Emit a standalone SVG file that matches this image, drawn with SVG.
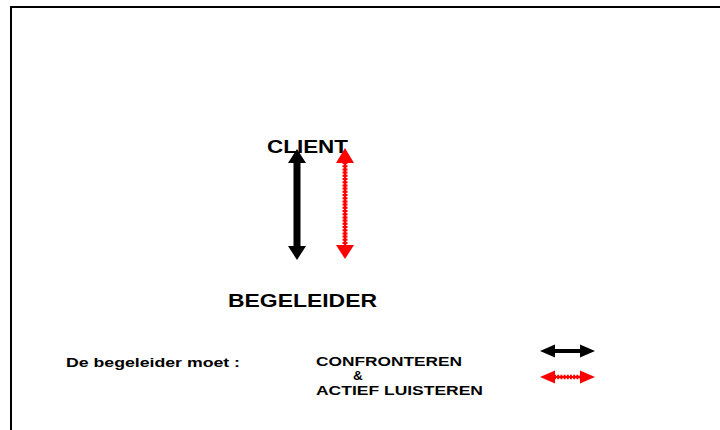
<svg xmlns="http://www.w3.org/2000/svg" width="720" height="430" viewBox="0 0 720 430">
  <style>
    .lbl { font-family: "Liberation Sans", Arial, sans-serif; font-weight: bold; fill: #000; }
    .big { font-size: 18.5px; }
    .small { font-size: 13.5px; }
    .frame { stroke: #000; stroke-width: 2; fill: none; }
    .solid { fill: #000; }
    .red { fill: #ff0000; }
    .dots { stroke: #ff0000; stroke-dasharray: 2 1.2; fill: none; }
  </style>

  <!-- page frame: top and left edges -->
  <path class="frame" d="M11 430 V7 H720"/>

  <g id="client">
    <text class="lbl big" x="267" y="153" textLength="81" lengthAdjust="spacingAndGlyphs">CLIENT</text>
  </g>

  <g id="begeleider">
    <text class="lbl big" x="228" y="307" textLength="149" lengthAdjust="spacingAndGlyphs">BEGELEIDER</text>
  </g>

  <g id="legend">
    <text class="lbl small" x="66" y="367" textLength="174" lengthAdjust="spacingAndGlyphs">De begeleider moet :</text>
    <text class="lbl small" x="316" y="366" textLength="146" lengthAdjust="spacingAndGlyphs">CONFRONTEREN</text>
    <text class="lbl small" x="353" y="380">&amp;</text>
    <text class="lbl small" x="316" y="395" textLength="167" lengthAdjust="spacingAndGlyphs">ACTIEF LUISTEREN</text>
  </g>

  <g id="connectors">
    <!-- confronteren: solid black double arrow -->
    <polygon class="solid" points="297,149 306,163 300.5,163 300.5,246 306,246 297,260 288,246 293.5,246 293.5,163 288,163"/>
    <!-- actief luisteren: dotted red double arrow -->
    <polygon class="red" points="345,148 354,163 336,163"/>
    <polygon class="red" points="345,259 354,245 336,245"/>
    <line class="dots" x1="345" y1="162" x2="345" y2="246" stroke-width="5"/>
    <line x1="345" y1="162" x2="345" y2="246" stroke="#ff0000" stroke-width="2.5"/>

    <!-- legend arrows -->
    <polygon class="solid" points="540,351 555,344.5 555,349 580,349 580,344.5 595,351 580,357.5 580,353 555,353 555,357.5"/>
    <polygon class="red" points="540,377 555,370.5 555,383.5"/>
    <polygon class="red" points="595,377 580,370.5 580,383.5"/>
    <line class="dots" x1="554" y1="377" x2="581" y2="377" stroke-width="4.5"/>
    <line x1="554" y1="377" x2="581" y2="377" stroke="#ff0000" stroke-width="2"/>
  </g>
</svg>
